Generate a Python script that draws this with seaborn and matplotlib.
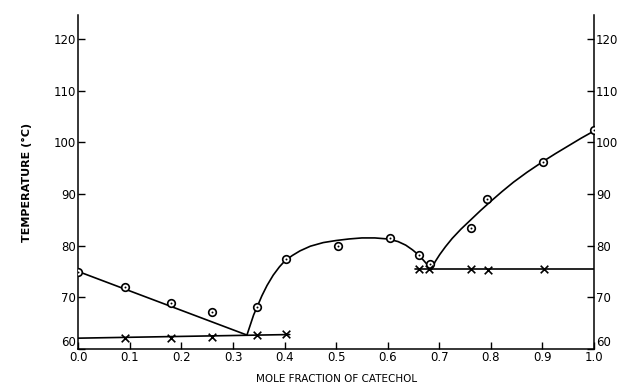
import matplotlib
matplotlib.use("Agg")
import matplotlib.pyplot as plt
import seaborn as sns
import pandas as pd

# ---- data ----
x_ticks = [0.0, 0.1, 0.2, 0.3, 0.4, 0.5, 0.6, 0.7, 0.8, 0.9, 1.0]
x_tick_labels = ["0.0", "0.1", "0.2", "0.3", "0.4", "0.5", "0.6", "0.7", "0.8", "0.9", "1.0"]
y_ticks = [60, 70, 80, 90, 100, 110, 120]
y_tick_labels = ["60", "70", "80", "90", "100", "110", "120"]

circle_x = [0.0, 0.09, 0.18, 0.26, 0.347, 0.402, 0.503, 0.604, 0.661, 0.682, 0.762, 0.792, 0.902, 1.0]
circle_T = [75.0, 72.0, 68.9, 67.2, 68.1, 77.5, 80.0, 81.5, 78.2, 76.5, 83.5, 89.0, 96.1, 102.3]

cross_x = [0.09, 0.18, 0.26, 0.347, 0.402, 0.661, 0.680, 0.761, 0.794, 0.904]
cross_T = [62.2, 62.1, 62.3, 62.8, 62.9, 75.4, 75.4, 75.4, 75.3, 75.4]

eut1_x = [0.0, 0.41]
eut1_T = [62.1, 62.8]
eut2_x = [0.653, 1.0]
eut2_T = [75.4, 75.4]

liq1_x = [0.0, 0.327]
liq1_T = [75.0, 62.7]
liq2_x = [0.327, 0.333, 0.340, 0.347, 0.356, 0.366, 0.378, 0.390, 0.400, 0.415, 0.430,
          0.450, 0.475, 0.500, 0.525, 0.550, 0.575, 0.600, 0.620, 0.635, 0.648, 0.660,
          0.670, 0.678, 0.685]
liq2_T = [62.7, 64.5, 66.6, 68.2, 70.3, 72.3, 74.3, 75.9, 77.0, 78.1, 79.0,
          79.9, 80.6, 81.0, 81.3, 81.5, 81.5, 81.3, 80.8, 80.1, 79.2, 78.2,
          77.1, 76.2, 75.4]
liq3_x = [0.685, 0.692, 0.701, 0.712, 0.725, 0.742, 0.761, 0.780, 0.800, 0.822, 0.844,
          0.870, 0.902, 0.925, 0.950, 0.975, 1.0]
liq3_T = [75.4, 76.9, 78.3, 79.8, 81.4, 83.2, 85.0, 86.8, 88.6, 90.5, 92.3,
          94.2, 96.35, 97.8, 99.3, 100.8, 102.2]

sns.set_theme(style="ticks")
plt.rcParams["font.family"] = ["DejaVu Sans"]

fig = plt.figure(figsize=(6.17, 3.89), dpi=100)
ax = fig.add_axes([0.1269, 0.1028, 0.8358, 0.858])

lw = 1.2
for xs, ts in [(eut1_x, eut1_T), (eut2_x, eut2_T), (liq1_x, liq1_T),
               (liq2_x, liq2_T), (liq3_x, liq3_T)]:
    df = pd.DataFrame({"x": xs, "T": ts})
    sns.lineplot(data=df, x="x", y="T", ax=ax, color="black", linewidth=lw,
                 sort=False, estimator=None, legend=False)

dfc = pd.DataFrame({"x": circle_x, "T": circle_T})
sns.scatterplot(data=dfc, x="x", y="T", ax=ax, marker="o", s=30,
                facecolor="white", edgecolor="black", linewidth=1.2, zorder=5)
sns.scatterplot(data=dfc, x="x", y="T", ax=ax, marker="o", s=2,
                color="black", linewidth=0, zorder=6)

dfx = pd.DataFrame({"x": cross_x, "T": cross_T})
sns.scatterplot(data=dfx, x="x", y="T", ax=ax, marker="x", s=30,
                color="black", linewidth=1.2, zorder=5)

ax.set_xlim(0.0, 1.0)
ax.set_ylim(60, 124.6)
ax.set_xticks(x_ticks)
ax.set_xticklabels(x_tick_labels)
ax.set_yticks(y_ticks)
ax.set_yticklabels(y_tick_labels)
ax.tick_params(axis="both", direction="in", length=5, width=1, labelsize=8.5,
               color="black", labelcolor="black")
ax.tick_params(axis="y", left=True, right=True, labelleft=True, labelright=True, pad=1.5)
ax.tick_params(axis="x", pad=1.5)

# lift the "60" labels above the bottom corner, as in the reference
fig.canvas.draw()
for tick in ax.yaxis.get_major_ticks():
    if tick.label2.get_text() == "60":
        tick.label2.set_verticalalignment("bottom")
    if tick.label1.get_text() == "60":
        tick.label1.set_verticalalignment("bottom")

for side in ["left", "right", "bottom"]:
    ax.spines[side].set_visible(True)
    ax.spines[side].set_color("black")
    ax.spines[side].set_linewidth(1.1)
ax.spines["top"].set_visible(False)

ax.set_xlabel("MOLE FRACTION OF CATECHOL", fontsize=7.5, labelpad=7, color="black")
ax.set_ylabel("TEMPERATURE (°C)", fontsize=8, fontweight="bold", labelpad=16, color="black")

fig.savefig("out.png", dpi=100, facecolor="white")
